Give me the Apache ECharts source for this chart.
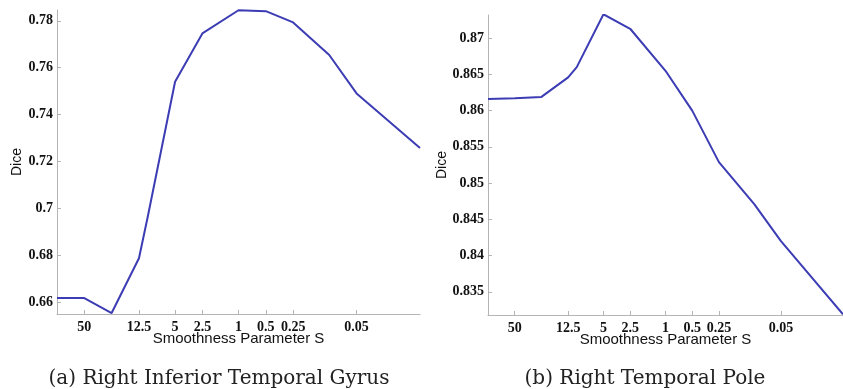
<!DOCTYPE html>
<html>
<head>
<meta charset="utf-8">
<script src="https://cdn.jsdelivr.net/npm/echarts@6/dist/echarts.min.js"></script>
<style>
  html, body { margin: 0; padding: 0; background: #fff; }
  #chart { width: 843px; height: 389px; }
</style>
</head>
<body>
<div id="chart"></div>
<script>
// Smoothness parameter S (log scale, decreasing left to right)
const smoothness = [100, 50, 25, 12.5, 10, 5, 2.5, 1, 0.5, 0.25, 0.1, 0.05, 0.01];
const sTickLabels = [50, 12.5, 5, 2.5, 1, 0.5, 0.25, 0.05];

// Dice scores per structure
const diceGyrus = [0.6617, 0.6617, 0.6553, 0.6787, 0.6964, 0.7540, 0.7746, 0.7845, 0.7841, 0.7793, 0.7654, 0.7490, 0.7257];
const dicePole  = [0.8616, 0.8617, 0.8619, 0.8646, 0.8660, 0.8733, 0.8713, 0.8655, 0.8600, 0.8529, 0.8471, 0.8420, 0.8319];

const diceTicksGyrus = [0.66, 0.68, 0.7, 0.72, 0.74, 0.76, 0.78];
const diceTicksPole  = [0.835, 0.84, 0.845, 0.85, 0.855, 0.86, 0.865, 0.87];

const captions = ['(a) Right Inferior Temporal Gyrus', '(b) Right Temporal Pole'];

const lineColor = '#3c3cb4';
const axisGrey = '#b4b4b4';
const tickFont = { fontFamily: 'Liberation Serif', fontWeight: 'bold', fontSize: 14, color: '#111' };
const captionFont = { fontFamily: 'DejaVu Serif', fontWeight: 'normal', fontSize: 20, color: '#222' };

function fmtNum(v) {
  return String(Math.round(v * 10000) / 10000);
}

function xAxisFor(gridIndex) {
  return {
    gridIndex,
    type: 'log',
    logBase: 10,
    min: 0.01,
    max: 100,
    inverse: true,
    name: 'Smoothness Parameter S',
    nameLocation: 'middle',
    nameGap: 17,
    nameMoveOverlap: false,
    nameTextStyle: { fontFamily: 'Liberation Sans', fontSize: 15, color: '#111' },
    axisLine: { show: true, lineStyle: { color: axisGrey, width: 1 } },
    axisTick: { show: true, inside: true, length: 4, customValues: sTickLabels, lineStyle: { color: axisGrey } },
    minorTick: { show: false },
    splitLine: { show: false },
    axisLabel: Object.assign({ customValues: sTickLabels, margin: 6, formatter: v => fmtNum(v) }, tickFont)
  };
}

function yAxisFor(gridIndex, min, max, ticks, gap) {
  return {
    gridIndex,
    type: 'value',
    min, max,
    name: 'Dice',
    nameLocation: 'middle',
    nameRotate: 90,
    nameGap: gap,
    nameMoveOverlap: false,
    nameTextStyle: { fontFamily: 'Liberation Sans', fontSize: 14, color: '#111' },
    axisLine: { show: true, lineStyle: { color: axisGrey, width: 1 } },
    axisTick: { show: true, inside: true, length: 4, customValues: ticks, lineStyle: { color: axisGrey } },
    splitLine: { show: false },
    axisLabel: Object.assign({ customValues: ticks, margin: 4, formatter: v => fmtNum(v) }, tickFont)
  };
}

const chart = echarts.init(document.getElementById('chart'), null, { renderer: 'canvas' });

chart.setOption({
  animation: false,
  backgroundColor: '#fff',
  title: [
    { text: captions[0], left: 214, top: 364, textAlign: 'center', textStyle: captionFont },
    { text: captions[1], left: 640, top: 364, textAlign: 'center', textStyle: captionFont }
  ],
  grid: [
    { left: 57, top: 10, width: 363, height: 304 },
    { left: 488, top: 15, width: 357, height: 300 }
  ],
  xAxis: [xAxisFor(0), xAxisFor(1)],
  yAxis: [
    yAxisFor(0, 0.6549, 0.7846, diceTicksGyrus, 33),
    yAxisFor(1, 0.8318, 0.8732, diceTicksPole, 39)
  ],
  series: [
    {
      type: 'line', xAxisIndex: 0, yAxisIndex: 0,
      data: smoothness.map((s, i) => [s, diceGyrus[i]]),
      showSymbol: false, lineStyle: { color: lineColor, width: 2 }
    },
    {
      type: 'line', xAxisIndex: 1, yAxisIndex: 1,
      data: smoothness.map((s, i) => [s, dicePole[i]]),
      showSymbol: false, lineStyle: { color: lineColor, width: 2 }
    }
  ]
});
</script>
</body>
</html>
